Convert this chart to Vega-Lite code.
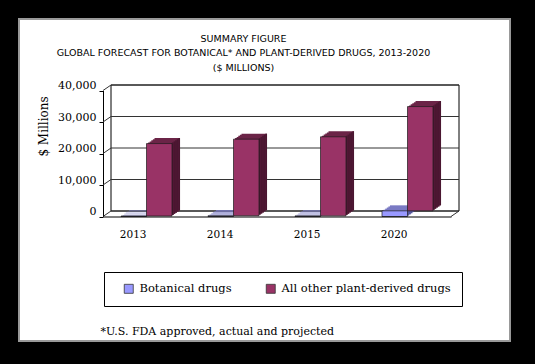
{
  "$schema": "https://vega.github.io/schema/vega-lite/v6.json",
  "width": 491,
  "height": 322,
  "autosize": {"type": "none"},
  "padding": {"left": 19, "top": 19, "right": 25, "bottom": 23},
  "background": "black",
  "config": {
    "view": {"fill": "white", "stroke": "#999", "strokeWidth": 2},
    "axis": {"labelColor": "black", "domainColor": "black", "tickColor": "black", "titleColor": "black", "labelFont": "DejaVu Serif", "titleFont": "DejaVu Serif", "grid": false},
    "legend": {"labelFont": "DejaVu Serif"}
  },
  "title": {
    "text": ["SUMMARY FIGURE", "GLOBAL FORECAST FOR BOTANICAL* AND PLANT-DERIVED DRUGS, 2013-2020", "($ MILLIONS)"],
    "font": "DejaVu Sans", "fontSize": 9.5, "fontWeight": "normal", "color": "black",
    "lineHeight": 14.5, "anchor": "middle", "dx": -21, "baseline": "top", "offset": -53, "frame": "group"
  },
  "datasets": {
    "bars": [
      {"year": "2013", "series": "Botanical drugs", "value": 150},
      {"year": "2013", "series": "All other plant-derived drugs", "value": 23000},
      {"year": "2014", "series": "Botanical drugs", "value": 250},
      {"year": "2014", "series": "All other plant-derived drugs", "value": 24300},
      {"year": "2015", "series": "Botanical drugs", "value": 200},
      {"year": "2015", "series": "All other plant-derived drugs", "value": 25100},
      {"year": "2020", "series": "Botanical drugs", "value": 1800},
      {"year": "2020", "series": "All other plant-derived drugs", "value": 33100}
    ],
    "grid": [{"v": 0}, {"v": 10000}, {"v": 20000}, {"v": 30000}, {"v": 40000}]
  },
  "data": {"name": "bars"},
  "resolve": {"scale": {"x": "shared", "y": "shared"}},
  "layer": [
    {
      "data": {"values": [{}]},
      "mark": {"type": "rect", "fill": "white", "stroke": "black", "strokeWidth": 1, "xOffset": 8, "x2Offset": 8, "yOffset": -5.5, "y2Offset": -5.5},
      "encoding": {
        "x": {"datum": "2013", "type": "nominal", "bandPosition": 0, "scale": {"type": "band", "domain": ["2013", "2014", "2015", "2020"], "range": [84, 432], "paddingInner": 0, "paddingOuter": 0}},
        "x2": {"datum": "2020", "bandPosition": 1},
        "y": {"datum": 0, "type": "quantitative", "scale": {"domain": [0, 40000], "range": [197.5, 71.5], "nice": false}},
        "y2": {"datum": 40000}
      }
    },
    {
      "data": {"name": "grid"},
      "mark": {"type": "rule", "stroke": "#333", "strokeWidth": 1, "xOffset": 8, "x2Offset": 8, "yOffset": -5.5},
      "encoding": {
        "x": {"datum": "2013", "type": "nominal", "bandPosition": 0},
        "x2": {"datum": "2020", "bandPosition": 1},
        "y": {"field": "v", "type": "quantitative"}
      }
    },
    {
      "data": {"name": "grid"},
      "mark": {"type": "rule", "stroke": "#333", "strokeWidth": 1, "x2Offset": 8, "y2Offset": -5.5},
      "encoding": {
        "x": {"datum": "2013", "type": "nominal", "bandPosition": 0},
        "x2": {"datum": "2013", "bandPosition": 0},
        "y": {"field": "v", "type": "quantitative"},
        "y2": {"field": "v"}
      }
    },
    {
      "data": {"values": [{}]},
      "mark": {"type": "rule", "stroke": "#333", "strokeWidth": 1, "x2Offset": 8, "y2Offset": -5.5},
      "encoding": {
        "x": {"datum": "2020", "type": "nominal", "bandPosition": 1},
        "x2": {"datum": "2020", "bandPosition": 1},
        "y": {"datum": 0, "type": "quantitative"},
        "y2": {"datum": 0}
      }
    },
    {"mark": {"type": "bar", "width": 25.5, "xOffset": {"expr": "datum.series == 'Botanical drugs' ? -11.15 : 14.35"}, "yOffset": -1.1, "y2Offset": 0, "fill": {"expr": "datum.series == 'Botanical drugs' ? '#7a7ac4' : '#6b2447'"}},
     "encoding": {"x": {"field": "year", "type": "nominal"}, "y": {"field": "value", "type": "quantitative"}}},
    {"mark": {"type": "bar", "width": 25.5, "xOffset": {"expr": "datum.series == 'Botanical drugs' ? -9.55 : 15.95"}, "yOffset": -2.2, "y2Offset": -1.1, "fill": {"expr": "datum.series == 'Botanical drugs' ? '#7a7ac4' : '#6b2447'"}},
     "encoding": {"x": {"field": "year", "type": "nominal"}, "y": {"field": "value", "type": "quantitative"}}},
    {"mark": {"type": "bar", "width": 25.5, "xOffset": {"expr": "datum.series == 'Botanical drugs' ? -7.95 : 17.55"}, "yOffset": -3.3, "y2Offset": -2.2, "fill": {"expr": "datum.series == 'Botanical drugs' ? '#7a7ac4' : '#6b2447'"}},
     "encoding": {"x": {"field": "year", "type": "nominal"}, "y": {"field": "value", "type": "quantitative"}}},
    {"mark": {"type": "bar", "width": 25.5, "xOffset": {"expr": "datum.series == 'Botanical drugs' ? -6.35 : 19.15"}, "yOffset": -4.4, "y2Offset": -3.3, "fill": {"expr": "datum.series == 'Botanical drugs' ? '#7a7ac4' : '#6b2447'"}},
     "encoding": {"x": {"field": "year", "type": "nominal"}, "y": {"field": "value", "type": "quantitative"}}},
    {"mark": {"type": "bar", "width": 25.5, "xOffset": {"expr": "datum.series == 'Botanical drugs' ? -4.75 : 20.75"}, "yOffset": -5.5, "y2Offset": -4.4, "fill": {"expr": "datum.series == 'Botanical drugs' ? '#7a7ac4' : '#6b2447'"}},
     "encoding": {"x": {"field": "year", "type": "nominal"}, "y": {"field": "value", "type": "quantitative"}}},
    {"mark": {"type": "bar", "width": 1.7, "xOffset": {"expr": "datum.series == 'Botanical drugs' ? 0.8 : 26.3"}, "yOffset": -1.1, "y2Offset": 0, "fill": {"expr": "datum.series == 'Botanical drugs' ? '#55559a' : '#4a1630'"}},
     "encoding": {"x": {"field": "year", "type": "nominal"}, "y": {"field": "value", "type": "quantitative"}}},
    {"mark": {"type": "bar", "width": 1.7, "xOffset": {"expr": "datum.series == 'Botanical drugs' ? 2.4 : 27.9"}, "yOffset": -2.2, "y2Offset": -1.1, "fill": {"expr": "datum.series == 'Botanical drugs' ? '#55559a' : '#4a1630'"}},
     "encoding": {"x": {"field": "year", "type": "nominal"}, "y": {"field": "value", "type": "quantitative"}}},
    {"mark": {"type": "bar", "width": 1.7, "xOffset": {"expr": "datum.series == 'Botanical drugs' ? 4.0 : 29.5"}, "yOffset": -3.3, "y2Offset": -2.2, "fill": {"expr": "datum.series == 'Botanical drugs' ? '#55559a' : '#4a1630'"}},
     "encoding": {"x": {"field": "year", "type": "nominal"}, "y": {"field": "value", "type": "quantitative"}}},
    {"mark": {"type": "bar", "width": 1.7, "xOffset": {"expr": "datum.series == 'Botanical drugs' ? 5.6 : 31.1"}, "yOffset": -4.4, "y2Offset": -3.3, "fill": {"expr": "datum.series == 'Botanical drugs' ? '#55559a' : '#4a1630'"}},
     "encoding": {"x": {"field": "year", "type": "nominal"}, "y": {"field": "value", "type": "quantitative"}}},
    {"mark": {"type": "bar", "width": 1.7, "xOffset": {"expr": "datum.series == 'Botanical drugs' ? 7.2 : 32.7"}, "yOffset": -5.5, "y2Offset": -4.4, "fill": {"expr": "datum.series == 'Botanical drugs' ? '#55559a' : '#4a1630'"}},
     "encoding": {"x": {"field": "year", "type": "nominal"}, "y": {"field": "value", "type": "quantitative"}}},
    {
      "mark": {"type": "bar", "width": 25.5, "xOffset": {"expr": "datum.series == 'Botanical drugs' ? -12.75 : 12.75"}, "stroke": "#1a1a1a", "strokeWidth": 0.7},
      "encoding": {
        "x": {"field": "year", "type": "nominal",
          "axis": {"orient": "bottom", "offset": -124.5, "ticks": false, "tickSize": 0, "labelPadding": 18, "labelAngle": 0, "labelFont": "DejaVu Serif", "labelFontSize": 10.5,
            "title": "*U.S. FDA approved, actual and projected", "titleFont": "DejaVu Serif", "titleAnchor": "start", "titleAlign": "left", "titleX": 81, "titleY": 117.5, "titleBaseline": "alphabetic", "titleFontSize": 11, "titleFontWeight": "normal"}},
        "y": {"field": "value", "type": "quantitative",
          "axis": {"orient": "left", "offset": -84, "values": [0, 10000, 20000, 30000, 40000], "format": ",d", "tickSize": 4, "labelPadding": 3, "labelOffset": -5, "labelFont": "DejaVu Serif", "labelFontSize": 11,
            "title": "$ Millions", "titleFont": "DejaVu Serif", "titleX": -60, "titleY": 107, "titleAngle": -90, "titleAlign": "center", "titleBaseline": "middle", "titleFontSize": 12, "titleFontWeight": "normal"}},
        "color": {"field": "series", "type": "nominal",
          "scale": {"domain": ["Botanical drugs", "All other plant-derived drugs"], "range": ["#9999ff", "#993366"]},
          "legend": {"orient": "none", "legendX": 85, "legendY": 253, "direction": "horizontal", "title": null, "fillColor": "white", "strokeColor": "black", "padding": 11,
            "symbolType": "square", "symbolSize": 81, "symbolStrokeColor": "#333", "symbolStrokeWidth": 0.8, "symbolOffset": 8,
            "labelFont": "DejaVu Serif", "labelFontSize": 11.5, "labelColor": "black", "labelOffset": 5, "columnPadding": 25, "labelLimit": 300}}
      }
    }
  ]
}
